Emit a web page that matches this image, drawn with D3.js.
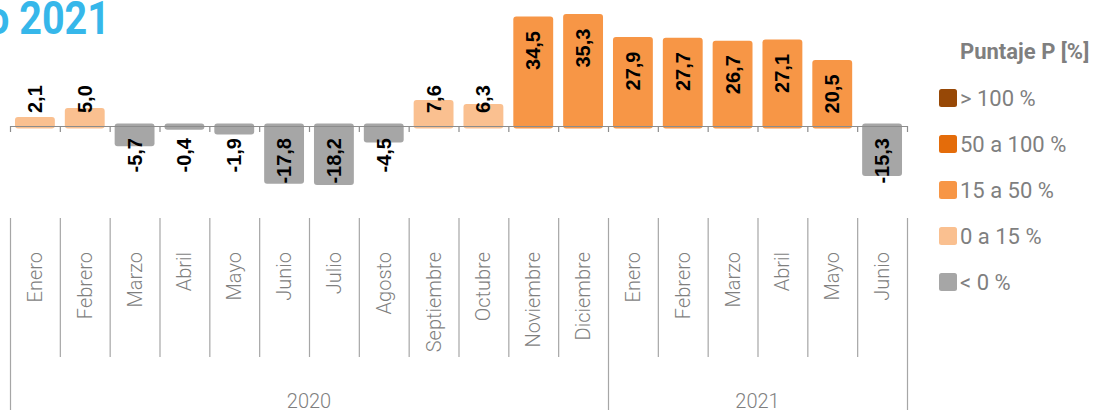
<!DOCTYPE html>
<html>
<head>
<meta charset="utf-8">
<script src="https://cdn.jsdelivr.net/npm/d3@7/dist/d3.min.js"></script>
<style>
  html, body { margin: 0; padding: 0; background: #fff; }
  svg { display: block; }
</style>
</head>
<body>
<svg id="chart" width="1094" height="410"></svg>
<script>
// Monthly variation of the P score, January 2020 – June 2021
const months = ["Enero","Febrero","Marzo","Abril","Mayo","Junio","Julio","Agosto",
                "Septiembre","Octubre","Noviembre","Diciembre",
                "Enero","Febrero","Marzo","Abril","Mayo","Junio"];
const years = ["2020","2020","2020","2020","2020","2020","2020","2020",
               "2020","2020","2020","2020",
               "2021","2021","2021","2021","2021","2021"];
const values = [2.1, 5.0, -5.7, -0.4, -1.9, -17.8, -18.2, -4.5,
                7.6, 6.3, 34.5, 35.3,
                27.9, 27.7, 26.7, 27.1, 20.5, -15.3];

const legendLabels = ["> 100 %", "50 a 100 %", "15 a 50 %", "0 a 15 %", "< 0 %"];
const legendColors = ["#974806", "#E46C0A", "#F79646", "#FAC090", "#A6A6A6"];

function colorFor(v) {
  if (v < 0) return legendColors[4];
  if (v < 15) return legendColors[3];
  if (v < 50) return legendColors[2];
  if (v < 100) return legendColors[1];
  return legendColors[0];
}

const svg = d3.select("#chart");
const grey = "#7f7f7f";
const lineGrey = "#a6a6a6";

const x = d3.scaleBand()
  .domain(d3.range(months.length))
  .range([10, 907])
  .paddingInner(0.2)
  .paddingOuter(0.1);
const step = x.step();

const y = d3.scaleLinear().domain([-20, 40]).range([188, 2]);
const y0 = y(0);

// Title (runs off the left edge), slightly condensed
svg.append("text")
  .attr("transform", "translate(110,34) scale(0.86,1)")
  .attr("text-anchor", "end")
  .attr("font-family", "Roboto, 'Open Sans', sans-serif")
  .attr("font-weight", 700)
  .attr("font-size", 46)
  .attr("fill", "#36B7EA")
  .text("junio 2021");

// Bars (rounded, with a thin rim)
const rim = 2.5;
svg.append("g").selectAll("rect")
  .data(values)
  .join("rect")
  .attr("x", (d, i) => x(i))
  .attr("width", x.bandwidth())
  .attr("y", d => Math.min(y(d), y0) - rim)
  .attr("height", d => Math.abs(y(d) - y0) + 2 * rim)
  .attr("rx", 3)
  .attr("fill", d => colorFor(d));

// Zero axis with ticks at the band boundaries
const axis = svg.append("g");
axis.append("line")
  .attr("x1", x.range()[0]).attr("x2", x.range()[1])
  .attr("y1", y0 + 0.5).attr("y2", y0 + 0.5)
  .attr("stroke", "#8c8c8c").attr("stroke-width", 1.2);
axis.selectAll("line.tick")
  .data(d3.range(months.length + 1))
  .join("line")
  .attr("class", "tick")
  .attr("x1", i => x.range()[0] + i * step + 0.5)
  .attr("x2", i => x.range()[0] + i * step + 0.5)
  .attr("y1", y0).attr("y2", y0 + 6)
  .attr("stroke", "#8c8c8c").attr("stroke-width", 1.2);

// Value labels
const fmt = v => v.toFixed(1).replace(".", ",");
svg.append("g").selectAll("text")
  .data(values)
  .join("text")
  .attr("transform", (d, i) => {
    const cx = x(i) + x.bandwidth() / 2;
    let ty;
    if (d >= 15) ty = y(d) + 12;
    else if (d >= 0) ty = y0 - 13;
    else ty = y0 + 12;
    return `translate(${cx},${ty}) rotate(-90)`;
  })
  .attr("text-anchor", d => (d >= 15 || d < 0) ? "end" : "start")
  .attr("dy", "0.35em")
  .attr("font-family", "'Liberation Sans', Arial, sans-serif")
  .attr("font-weight", 700)
  .attr("font-size", 20)
  .attr("fill", "#000")
  .text(d => fmt(d));

// Category separators and month labels
const catTop = 218, catBottom = 357, groupBottom = 410;
const starts = [0];
for (let i = 1; i < years.length; i++) if (years[i] !== years[i - 1]) starts.push(i);
starts.push(years.length);

const sep = svg.append("g");
sep.selectAll("line")
  .data(d3.range(months.length + 1))
  .join("line")
  .attr("x1", i => x.range()[0] + i * step + 0.5)
  .attr("x2", i => x.range()[0] + i * step + 0.5)
  .attr("y1", catTop)
  .attr("y2", i => starts.includes(i) ? groupBottom : catBottom)
  .attr("stroke", lineGrey).attr("stroke-width", 1.2);

svg.append("g").selectAll("text")
  .data(months)
  .join("text")
  .attr("transform", (d, i) => `translate(${x(i) + x.bandwidth() / 2},252) rotate(-90)`)
  .attr("text-anchor", "end")
  .attr("dy", "0.35em")
  .attr("font-family", "Roboto, sans-serif")
  .attr("font-weight", 300)
  .attr("font-size", 20)
  .attr("fill", grey)
  .text(d => d);

// Year labels
const groups = starts.slice(0, -1).map((s, k) => ({ year: years[s], a: s, b: starts[k + 1] }));
svg.append("g").selectAll("text")
  .data(groups)
  .join("text")
  .attr("x", g => x.range()[0] + (g.a + g.b) / 2 * step)
  .attr("y", 408)
  .attr("text-anchor", "middle")
  .attr("font-family", "Roboto, sans-serif")
  .attr("font-weight", 300)
  .attr("font-size", 20)
  .attr("fill", grey)
  .text(g => g.year);

// Legend
const lg = svg.append("g");
lg.append("text")
  .attr("x", 960).attr("y", 59)
  .attr("font-family", "Roboto, sans-serif")
  .attr("font-weight", 700)
  .attr("font-size", 22)
  .attr("fill", grey)
  .text("Puntaje P [%]");
const items = lg.selectAll("g.item")
  .data(legendLabels)
  .join("g")
  .attr("class", "item")
  .attr("transform", (d, i) => `translate(939,${89 + i * 46})`);
items.append("rect")
  .attr("width", 18).attr("height", 18).attr("rx", 2.5)
  .attr("fill", (d, i) => legendColors[i]);
items.append("text")
  .attr("x", 21).attr("y", 16.5)
  .attr("font-family", "Roboto, sans-serif")
  .attr("font-weight", 400)
  .attr("font-size", 22)
  .attr("fill", grey)
  .text(d => d);
</script>
</body>
</html>
